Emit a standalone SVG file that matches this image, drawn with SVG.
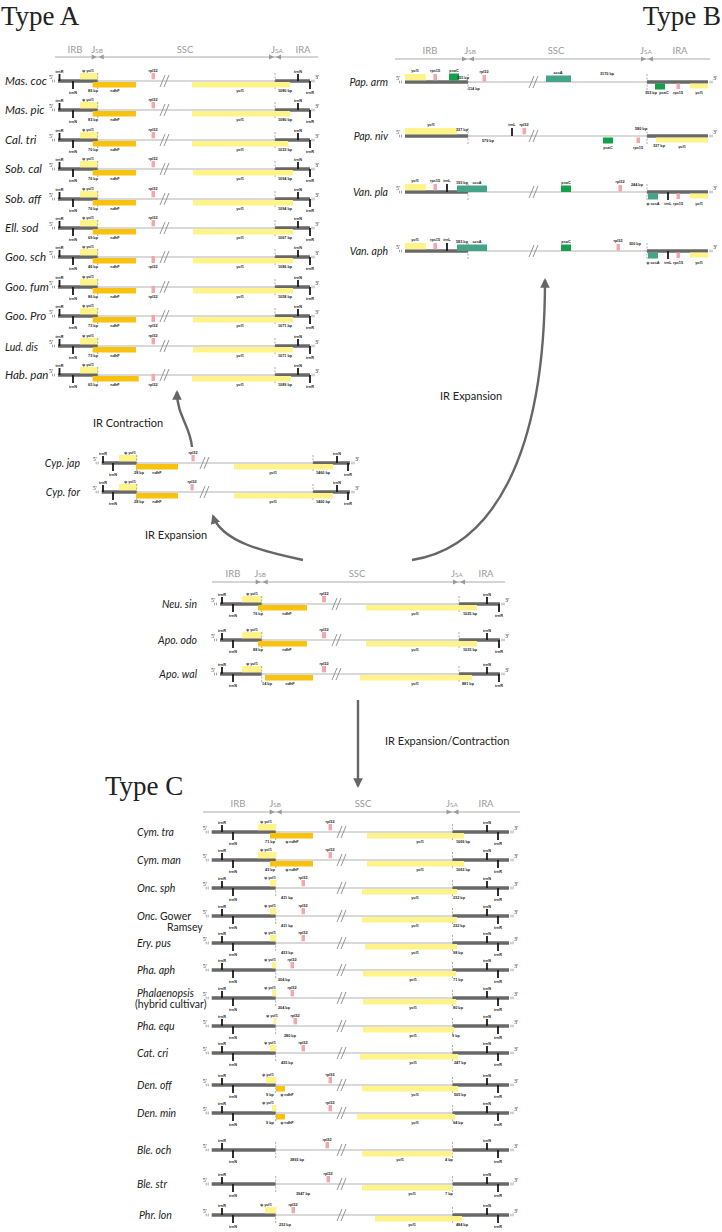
<svg xmlns="http://www.w3.org/2000/svg" xmlns:xlink="http://www.w3.org/1999/xlink" width="722" height="1232" viewBox="0 0 722 1232">
<style>
.dk{stroke:#686868;stroke-width:3.5;fill:none}
.lt{stroke:#b4b4b4;stroke-width:1.1;fill:none}
.yl{fill:#fff38a}
.or{fill:#f9c20f}
.pk{fill:#f3a7ab}
.gr{fill:#14a04a}
.te{fill:#44a488}
.tk{stroke:#1a1a1a;stroke-width:1.8;fill:none}
.jn{stroke:#8a8a8a;stroke-width:0.7;stroke-dasharray:2,1.5}
.bk{stroke:#8a8a8a;stroke-width:0.9;fill:none}
.em{stroke:#666;stroke-width:0.6;fill:none}
.sm{font-family:"Liberation Sans",Arial,sans-serif;font-size:3.8px;font-weight:bold;fill:#222;text-anchor:middle}
.pr{font-family:"Liberation Serif",serif;font-size:6px;fill:#333}
.hd{font-family:Lato,"Open Sans",sans-serif;font-size:9.5px;fill:#9a9a9a;text-anchor:middle}
.hl{stroke:#a0a0a0;stroke-width:0.9}
.hm{fill:#9a9a9a}
.nm{font-family:Lato,"Open Sans",sans-serif;font-size:10.5px;font-style:italic;fill:#222}
.na{font-size:11.5px}
.nr{font-family:Lato,"Open Sans",sans-serif;font-size:10.5px;fill:#222}
.ti{font-family:"Liberation Serif","Times New Roman",serif;font-size:27px;fill:#222}
.lb{font-family:Lato,"Open Sans",sans-serif;font-size:11px;fill:#222}
.cn{stroke:#666;stroke-width:2.4;fill:none}
</style>
<defs>
<marker id="ah" viewBox="0 0 10 10" refX="8" refY="5" markerWidth="4" markerHeight="4" orient="auto"><path d="M0,0L10,5L0,10z" fill="#666"/></marker>
<g id="e5"><text class="pr" x="-9" y="-2.5">5'</text><path class="em" d="M-5.5,-1.3V1.3M-3.5,-1.3V1.3"/></g>
<g id="e3"><path class="em" d="M2,-1.3V1.3M4,-1.3V1.3"/><text class="pr" x="5" y="-2.5">3'</text></g>
<line id="jn" class="jn" x1="0" y1="-8" x2="0" y2="9"/>
<path id="bk" class="bk" d="M0,6L5,-6M4,6L9,-6"/>
<path id="hm" class="hm" d="M-6,-2.5L-1,0L-6,2.5ZM6,-2.5L1,0L6,2.5ZM-6.5,-2.5V2.5"/>
<g id="skA">
 <use href="#e5" x="58"/>
 <line class="lt" x1="97.7" y1="0" x2="275" y2="0"/>
 <use href="#bk" x="160"/>
 <line class="dk" x1="58" y1="0" x2="97.7" y2="0"/>
 <line class="dk" x1="275" y1="0" x2="310" y2="0"/>
 <rect class="yl" x="80" y="-8" width="17.7" height="6.3"/>
 <path class="tk" d="M59.5,-7V0M73,0V8M298,-7V0M310,0V8"/>
 <use href="#jn" x="97.7"/><use href="#jn" x="275"/>
 <use href="#e3" x="310"/>
 <text class="sm" x="59.5" y="-8.5">trnR</text>
 <text class="sm" x="73" y="12.5">trnN</text>
 <text class="sm" x="88" y="-9.5">ψ ycf1</text>
 <text class="sm" x="298" y="-8.5">trnN</text>
 <text class="sm" x="310" y="12.5">trnR</text>
</g>
<g id="skY">
 <use href="#e5" x="101.7"/>
 <line class="lt" x1="136.7" y1="0" x2="313" y2="0"/>
 <use href="#bk" x="200"/>
 <line class="dk" x1="101.7" y1="0" x2="136.7" y2="0"/>
 <line class="dk" x1="313" y1="0" x2="350" y2="0"/>
 <rect class="yl" x="119" y="-8" width="18" height="6.3"/>
 <path class="tk" d="M103,-7V0M113,0V8M337,-7V0M348,0V8"/>
 <use href="#jn" x="136.7"/><use href="#jn" x="313"/>
 <use href="#e3" x="350"/>
 <text class="sm" x="103" y="-8.5">trnR</text>
 <text class="sm" x="113" y="12.5">trnN</text>
 <text class="sm" x="130" y="-9.5">ψ ycf1</text>
 <text class="sm" x="337" y="-8.5">trnN</text>
 <text class="sm" x="348" y="12.5">trnR</text>
</g>
<g id="skN">
 <use href="#e5" x="220"/>
 <line class="lt" x1="261.7" y1="0" x2="459" y2="0"/>
 <use href="#bk" x="332"/>
 <line class="dk" x1="220" y1="0" x2="261.7" y2="0"/>
 <line class="dk" x1="459" y1="0" x2="500" y2="0"/>
 <rect class="yl" x="242" y="-8" width="19.7" height="6.3"/>
 <path class="tk" d="M222,-7V0M233,0V8M487,-7V0M499,0V8"/>
 <use href="#jn" x="261.7"/><use href="#jn" x="459"/>
 <use href="#e3" x="500"/>
 <text class="sm" x="222" y="-8.5">trnR</text>
 <text class="sm" x="233" y="12.5">trnN</text>
 <text class="sm" x="252" y="-9.5">ψ ycf1</text>
 <text class="sm" x="487" y="-8.5">trnN</text>
 <text class="sm" x="499" y="12.5">trnR</text>
</g>
<g id="skC">
 <use href="#e5" x="211.7"/>
 <line class="lt" x1="275.7" y1="0" x2="452.5" y2="0"/>
 <use href="#bk" x="337"/>
 <line class="dk" x1="211.7" y1="0" x2="275.7" y2="0"/>
 <line class="dk" x1="452.5" y1="0" x2="509" y2="0"/>
 <path class="tk" d="M222,-7V0M233,0V8M487,-7V0M498,0V8"/>
 <use href="#jn" x="275.7"/><use href="#jn" x="452.5"/>
 <use href="#e3" x="509"/>
 <text class="sm" x="222" y="-8.5">trnR</text>
 <text class="sm" x="233" y="12.5">trnN</text>
 <text class="sm" x="487" y="-8.5">trnN</text>
 <text class="sm" x="498" y="12.5">trnR</text>
</g>
</defs>
<rect width="722" height="1232" fill="#fff"/>

<text class="ti" x="1" y="25">Type A</text>
<text class="ti" x="721" y="25" text-anchor="end">Type B</text>
<text class="ti" x="105" y="795">Type C</text>

<g id="headers">
 <g id="hdrA">
  <line class="hl" x1="55" y1="57" x2="318" y2="57"/>
  <use href="#hm" x="97.7" y="57"/><use href="#hm" x="275" y="57"/>
  <text class="hd" x="75" y="53">IRB</text>
  <text class="hd" x="97" y="53">J<tspan font-size="6.5">SB</tspan></text>
  <text class="hd" x="185" y="53">SSC</text>
  <text class="hd" x="277" y="53">J<tspan font-size="6.5">SA</tspan></text>
  <text class="hd" x="303" y="53">IRA</text>
 </g>
 <g id="hdrB">
  <line class="hl" x1="395" y1="59" x2="710" y2="59"/>
  <use href="#hm" x="468" y="59"/><use href="#hm" x="647" y="59"/>
  <text class="hd" x="430" y="54">IRB</text>
  <text class="hd" x="470" y="54">J<tspan font-size="6.5">SB</tspan></text>
  <text class="hd" x="556" y="54">SSC</text>
  <text class="hd" x="646" y="54">J<tspan font-size="6.5">SA</tspan></text>
  <text class="hd" x="680" y="54">IRA</text>
 </g>
 <g id="hdrN">
  <line class="hl" x1="212" y1="582" x2="505" y2="582"/>
  <use href="#hm" x="261.7" y="582"/><use href="#hm" x="459" y="582"/>
  <text class="hd" x="233" y="577">IRB</text>
  <text class="hd" x="260" y="577">J<tspan font-size="6.5">SB</tspan></text>
  <text class="hd" x="357" y="577">SSC</text>
  <text class="hd" x="457" y="577">J<tspan font-size="6.5">SA</tspan></text>
  <text class="hd" x="486" y="577">IRA</text>
 </g>
 <g id="hdrC">
  <line class="hl" x1="203" y1="812" x2="520" y2="812"/>
  <use href="#hm" x="275.7" y="812"/><use href="#hm" x="452.5" y="812"/>
  <text class="hd" x="238" y="807">IRB</text>
  <text class="hd" x="275" y="807">J<tspan font-size="6.5">SB</tspan></text>
  <text class="hd" x="363" y="807">SSC</text>
  <text class="hd" x="452" y="807">J<tspan font-size="6.5">SA</tspan></text>
  <text class="hd" x="486" y="807">IRA</text>
 </g>
</g>

<g id="typeA">
 <g id="mas-coc" transform="translate(0,81)">
  <text class="nm na" x="5" y="4">Mas. coc</text><use href="#skA"/>
  <rect class="or" x="92.7" y="1" width="43.3" height="5.5"/><rect class="yl" x="192" y="1" width="98" height="5.5"/>
  <rect class="pk" x="151.5" y="-8" width="3.5" height="6.3"/>
  <text class="sm" x="153" y="-9.5">rpl32</text><text class="sm" x="93" y="11">86 bp</text><text class="sm" x="115" y="11">ndhF</text><text class="sm" x="240" y="11">ycf1</text><text class="sm" x="285" y="11">1080 bp</text>
 </g>
 <g id="mas-pic" transform="translate(0,110)">
  <text class="nm na" x="5" y="4">Mas. pic</text><use href="#skA"/>
  <rect class="or" x="92.7" y="1" width="43.3" height="5.5"/><rect class="yl" x="192" y="1" width="98" height="5.5"/>
  <rect class="pk" x="151.5" y="-8" width="3.5" height="6.3"/>
  <text class="sm" x="153" y="-9.5">rpl32</text><text class="sm" x="93" y="11">83 bp</text><text class="sm" x="115" y="11">ndhF</text><text class="sm" x="240" y="11">ycf1</text><text class="sm" x="285" y="11">1080 bp</text>
 </g>
 <g id="cal-tri" transform="translate(0,140)">
  <text class="nm na" x="5" y="4">Cal. tri</text><use href="#skA"/>
  <rect class="or" x="92.7" y="1" width="43.3" height="5.5"/><rect class="yl" x="192" y="1" width="96" height="5.5"/>
  <rect class="pk" x="151.5" y="-8" width="3.5" height="6.3"/>
  <text class="sm" x="153" y="-9.5">rpl32</text><text class="sm" x="93" y="11">70 bp</text><text class="sm" x="115" y="11">ndhF</text><text class="sm" x="240" y="11">ycf1</text><text class="sm" x="285" y="11">1033 bp</text>
 </g>
 <g id="sob-cal" transform="translate(0,169)">
  <text class="nm na" x="5" y="4">Sob. cal</text><use href="#skA"/>
  <rect class="or" x="92.7" y="1" width="43.3" height="5.5"/><rect class="yl" x="193" y="1" width="100" height="5.5"/>
  <rect class="pk" x="151.5" y="-8" width="3.5" height="6.3"/>
  <text class="sm" x="153" y="-9.5">rpl32</text><text class="sm" x="93" y="11">76 bp</text><text class="sm" x="115" y="11">ndhF</text><text class="sm" x="240" y="11">ycf1</text><text class="sm" x="285" y="11">1094 bp</text>
 </g>
 <g id="sob-aff" transform="translate(0,199)">
  <text class="nm na" x="5" y="4">Sob. aff</text><use href="#skA"/>
  <rect class="or" x="92.7" y="1" width="43.3" height="5.5"/><rect class="yl" x="193" y="1" width="100" height="5.5"/>
  <rect class="pk" x="151.5" y="-8" width="3.5" height="6.3"/>
  <text class="sm" x="153" y="-9.5">rpl32</text><text class="sm" x="93" y="11">76 bp</text><text class="sm" x="115" y="11">ndhF</text><text class="sm" x="240" y="11">ycf1</text><text class="sm" x="285" y="11">1094 bp</text>
 </g>
 <g id="ell-sod" transform="translate(0,228)">
  <text class="nm na" x="5" y="4">Ell. sod</text><use href="#skA"/>
  <rect class="or" x="92.7" y="1" width="43.3" height="5.5"/><rect class="yl" x="193" y="1" width="100" height="5.5"/>
  <rect class="pk" x="151.5" y="-8" width="3.5" height="6.3"/>
  <text class="sm" x="153" y="-9.5">rpl32</text><text class="sm" x="93" y="11">69 bp</text><text class="sm" x="115" y="11">ndhF</text><text class="sm" x="240" y="11">ycf1</text><text class="sm" x="285" y="11">1067 bp</text>
 </g>
 <g id="goo-sch" transform="translate(0,257)">
  <text class="nm na" x="5" y="4">Goo. sch</text><use href="#skA"/>
  <rect class="or" x="92.7" y="1" width="43.3" height="5.5"/><rect class="yl" x="193" y="1" width="100" height="5.5"/>
  <rect class="pk" x="151.5" y="-1" width="3.5" height="7"/>
  <text class="sm" x="153" y="11">rpl32</text><text class="sm" x="93" y="11">46 bp</text><text class="sm" x="115" y="11">ndhF</text><text class="sm" x="240" y="11">ycf1</text><text class="sm" x="285" y="11">1086 bp</text>
 </g>
 <g id="goo-fum" transform="translate(0,287)">
  <text class="nm na" x="5" y="4">Goo. fum</text><use href="#skA"/>
  <rect class="or" x="92.7" y="1" width="43.3" height="5.5"/><rect class="yl" x="193" y="1" width="100" height="5.5"/>
  <rect class="pk" x="151.5" y="-1" width="3.5" height="7"/>
  <text class="sm" x="153" y="11">rpl32</text><text class="sm" x="93" y="11">86 bp</text><text class="sm" x="115" y="11">ndhF</text><text class="sm" x="240" y="11">ycf1</text><text class="sm" x="285" y="11">1058 bp</text>
 </g>
 <g id="goo-pro" transform="translate(0,316)">
  <text class="nm na" x="5" y="4">Goo. Pro</text><use href="#skA"/>
  <rect class="or" x="92.7" y="1" width="43.3" height="5.5"/><rect class="yl" x="193" y="1" width="100" height="5.5"/>
  <rect class="pk" x="151.5" y="-1" width="3.5" height="7"/>
  <text class="sm" x="153" y="11">rpl32</text><text class="sm" x="93" y="11">73 bp</text><text class="sm" x="115" y="11">ndhF</text><text class="sm" x="240" y="11">ycf1</text><text class="sm" x="285" y="11">1071 bp</text>
 </g>
 <g id="lud-dis" transform="translate(0,346)">
  <text class="nm" x="5" y="5" font-size="13.5">Lud. dis</text><use href="#skA"/>
  <rect class="or" x="92.7" y="1" width="43.3" height="5.5"/><rect class="yl" x="193" y="1" width="100" height="5.5"/>
  <rect class="pk" x="151.5" y="-8" width="3.5" height="6.3"/>
  <text class="sm" x="153" y="-9.5">rpl32</text><text class="sm" x="93" y="11">73 bp</text><text class="sm" x="115" y="11">ndhF</text><text class="sm" x="240" y="11">ycf1</text><text class="sm" x="285" y="11">1071 bp</text>
 </g>
 <g id="hab-pan" transform="translate(0,375)">
  <text class="nm na" x="5" y="4">Hab. pan</text><use href="#skA"/>
  <rect class="or" x="92.7" y="1" width="46" height="5.5"/><rect class="yl" x="192" y="1" width="99" height="5.5"/>
  <rect class="pk" x="151.5" y="-1" width="3.5" height="7"/>
  <text class="sm" x="153" y="11">rpl32</text><text class="sm" x="93" y="11">65 bp</text><text class="sm" x="115" y="11">ndhF</text><text class="sm" x="240" y="11">ycf1</text><text class="sm" x="285" y="11">1089 bp</text>
 </g>
</g>

<g id="typeB">
 <g id="pap-arm" transform="translate(0,82)">
  <text class="nm" x="388" y="4" text-anchor="end">Pap. arm</text>
  <use href="#e5" x="405"/>
  <line class="lt" x1="468" y1="0" x2="647" y2="0"/><use href="#bk" x="529"/>
  <line class="dk" x1="405" y1="0" x2="468" y2="0"/><line class="dk" x1="647" y1="0" x2="708" y2="0"/>
  <rect class="yl" x="405" y="-8" width="21" height="6.3"/>
  <rect class="pk" x="433.5" y="-8" width="3.5" height="6.3"/>
  <rect class="gr" x="449" y="-8.5" width="10" height="7"/>
  <rect class="pk" x="482.5" y="-7" width="3.5" height="6.5"/>
  <rect class="te" x="546" y="-6.5" width="25" height="6.5"/>
  <rect class="gr" x="655" y="1.5" width="10" height="6"/>
  <rect class="pk" x="676.5" y="1.5" width="3.5" height="5.5"/>
  <rect class="yl" x="690" y="1.5" width="18" height="5"/>
  <use href="#jn" x="468"/><use href="#jn" x="647"/><use href="#e3" x="708"/>
  <text class="sm" x="415" y="-10">ycf1</text><text class="sm" x="435" y="-10">rps15</text><text class="sm" x="454" y="-10.5">psaC</text>
  <text class="sm" x="463" y="-3">355 bp</text><text class="sm" x="474" y="8">114 bp</text><text class="sm" x="484" y="-9">rpl32</text>
  <text class="sm" x="558" y="-8.5">ccsA</text><text class="sm" x="607" y="-7">3170 bp</text>
  <text class="sm" x="651" y="12">353 bp</text><text class="sm" x="664" y="12">psaC</text><text class="sm" x="678" y="12">rps15</text><text class="sm" x="699" y="12">ycf1</text>
 </g>
 <g id="pap-niv" transform="translate(0,136)">
  <text class="nm" x="388" y="4" text-anchor="end">Pap. niv</text>
  <use href="#e5" x="405"/>
  <line class="lt" x1="468" y1="0" x2="647" y2="0"/><use href="#bk" x="529"/>
  <line class="dk" x1="405" y1="0" x2="468" y2="0"/><line class="dk" x1="647" y1="0" x2="708" y2="0"/>
  <rect class="yl" x="405" y="-8" width="52" height="6.3"/>
  <path class="tk" d="M512,-8V0"/>
  <rect class="pk" x="522.5" y="-8" width="3.5" height="6.3"/>
  <rect class="gr" x="603" y="1.5" width="10" height="6"/>
  <rect class="pk" x="636.5" y="1.5" width="3.5" height="5.5"/>
  <rect class="yl" x="656" y="1.5" width="52" height="5"/>
  <use href="#jn" x="468"/><use href="#jn" x="647"/><use href="#e3" x="708"/>
  <text class="sm" x="431" y="-10">ycf1</text><text class="sm" x="462" y="-5">337 bp</text><text class="sm" x="488" y="6">579 bp</text>
  <text class="sm" x="512" y="-10">trnL</text><text class="sm" x="524" y="-10">rpl32</text>
  <text class="sm" x="608" y="13">psaC</text><text class="sm" x="638" y="13">rps15</text><text class="sm" x="641" y="-6">580 bp</text>
  <text class="sm" x="659" y="11">337 bp</text><text class="sm" x="682" y="12">ycf1</text>
 </g>
 <g id="van-pla" transform="translate(0,192)">
  <text class="nm" x="388" y="4" text-anchor="end">Van. pla</text>
  <use href="#e5" x="405"/>
  <line class="lt" x1="468" y1="0" x2="647" y2="0"/><use href="#bk" x="529"/>
  <line class="dk" x1="405" y1="0" x2="468" y2="0"/><line class="dk" x1="647" y1="0" x2="708" y2="0"/>
  <rect class="yl" x="405" y="-8" width="21" height="6.3"/>
  <rect class="pk" x="433.5" y="-8" width="3.5" height="6.3"/>
  <path class="tk" d="M447,-8V0M668,0V8"/>
  <rect class="te" x="457" y="-6.5" width="30" height="6.5"/>
  <rect class="gr" x="561" y="-6.5" width="10" height="6.5"/>
  <rect class="pk" x="618.5" y="-7" width="3.5" height="6.5"/>
  <rect class="te" x="648" y="1.5" width="10" height="6"/>
  <rect class="pk" x="676.5" y="1.5" width="3.5" height="5.5"/>
  <rect class="yl" x="690" y="1.5" width="18" height="5"/>
  <use href="#jn" x="468"/><use href="#jn" x="647"/><use href="#e3" x="708"/>
  <text class="sm" x="415" y="-10">ycf1</text><text class="sm" x="435" y="-10">rps15</text><text class="sm" x="447" y="-10">trnL</text>
  <text class="sm" x="462" y="-8">193 bp</text><text class="sm" x="477" y="-8">ccsA</text><text class="sm" x="566" y="-8.5">psaC</text>
  <text class="sm" x="620" y="-9">rpl32</text><text class="sm" x="637" y="-6">244 bp</text>
  <text class="sm" x="653" y="13">ψ ccsA</text><text class="sm" x="668" y="13">trnL</text><text class="sm" x="678" y="13">rps15</text><text class="sm" x="699" y="13">ycf1</text>
 </g>
 <g id="van-aph" transform="translate(0,251)">
  <text class="nm" x="388" y="4" text-anchor="end">Van. aph</text>
  <use href="#e5" x="405"/>
  <line class="lt" x1="468" y1="0" x2="647" y2="0"/><use href="#bk" x="529"/>
  <line class="dk" x1="405" y1="0" x2="468" y2="0"/><line class="dk" x1="647" y1="0" x2="708" y2="0"/>
  <rect class="yl" x="405" y="-8" width="21" height="6.3"/>
  <rect class="pk" x="433.5" y="-8" width="3.5" height="6.3"/>
  <path class="tk" d="M447,-8V0M668,0V8"/>
  <rect class="te" x="457" y="-6.5" width="30" height="6.5"/>
  <rect class="gr" x="561" y="-6.5" width="10" height="6.5"/>
  <rect class="pk" x="616.5" y="-7" width="3.5" height="6.5"/>
  <rect class="te" x="648" y="1.5" width="10" height="6"/>
  <rect class="pk" x="676.5" y="1.5" width="3.5" height="5.5"/>
  <rect class="yl" x="690" y="1.5" width="18" height="5"/>
  <use href="#jn" x="468"/><use href="#jn" x="647"/><use href="#e3" x="708"/>
  <text class="sm" x="415" y="-10">ycf1</text><text class="sm" x="435" y="-10">rps15</text><text class="sm" x="447" y="-10">trnL</text>
  <text class="sm" x="462" y="-8">583 bp</text><text class="sm" x="477" y="-8">ccsA</text><text class="sm" x="566" y="-8.5">psaC</text>
  <text class="sm" x="618" y="-9">rpl32</text><text class="sm" x="635" y="-6">300 bp</text>
  <text class="sm" x="653" y="13">ψ ccsA</text><text class="sm" x="668" y="13">trnL</text><text class="sm" x="678" y="13">rps15</text><text class="sm" x="699" y="13">ycf1</text>
 </g>
</g>

<g id="cyp">
 <g id="cyp-jap" transform="translate(0,463)">
  <text class="nm" x="80" y="4" text-anchor="end" font-size="12">Cyp. jap</text><use href="#skY"/>
  <rect class="or" x="136" y="1" width="42" height="5.5"/><rect class="yl" x="234" y="1" width="99" height="5.5"/>
  <rect class="pk" x="191.5" y="-8" width="3.2" height="6.3"/>
  <text class="sm" x="193" y="-9.5">rpl32</text><text class="sm" x="139" y="11">28 bp</text><text class="sm" x="157" y="11">ndhF</text><text class="sm" x="273" y="11">ycf1</text><text class="sm" x="323" y="11">1460 bp</text>
 </g>
 <g id="cyp-for" transform="translate(0,492)">
  <text class="nm" x="80" y="4" text-anchor="end" font-size="12">Cyp. for</text><use href="#skY"/>
  <rect class="or" x="136" y="1" width="42" height="5.5"/><rect class="yl" x="234" y="1" width="99" height="5.5"/>
  <rect class="pk" x="190.5" y="-8" width="3.2" height="6.3"/>
  <text class="sm" x="192" y="-9.5">rpl32</text><text class="sm" x="139" y="11">28 bp</text><text class="sm" x="157" y="11">ndhF</text><text class="sm" x="273" y="11">ycf1</text><text class="sm" x="323" y="11">1460 bp</text>
 </g>
</g>

<g id="neu">
 <g id="neu-sin" transform="translate(0,604)">
  <text class="nm" x="197" y="4" text-anchor="end" font-size="12">Neu. sin</text><use href="#skN"/>
  <rect class="or" x="258" y="1" width="49" height="5.5"/><rect class="yl" x="366" y="1" width="111" height="5.5"/>
  <rect class="pk" x="322" y="-8" width="4" height="6.3"/>
  <text class="sm" x="324" y="-9.5">rpl32</text><text class="sm" x="258" y="11">76 bp</text><text class="sm" x="287" y="11">ndhF</text><text class="sm" x="415" y="11">ycf1</text><text class="sm" x="470" y="11">1025 bp</text>
 </g>
 <g id="apo-odo" transform="translate(0,640)">
  <text class="nm" x="197" y="4" text-anchor="end" font-size="12">Apo. odo</text><use href="#skN"/>
  <rect class="or" x="258" y="1" width="49" height="5.5"/><rect class="yl" x="366" y="1" width="111" height="5.5"/>
  <rect class="pk" x="322" y="-8" width="4" height="6.3"/>
  <text class="sm" x="324" y="-9.5">rpl32</text><text class="sm" x="258" y="11">88 bp</text><text class="sm" x="287" y="11">ndhF</text><text class="sm" x="415" y="11">ycf1</text><text class="sm" x="470" y="11">1033 bp</text>
 </g>
 <g id="apo-wal" transform="translate(0,674)">
  <text class="nm" x="197" y="4" text-anchor="end" font-size="12">Apo. wal</text><use href="#skN"/>
  <rect class="or" x="265" y="1" width="48" height="5.5"/><rect class="yl" x="360" y="1" width="112" height="5.5"/>
  <rect class="pk" x="322" y="-8" width="4" height="6.3"/>
  <text class="sm" x="324" y="-9.5">rpl32</text><text class="sm" x="267" y="11">14 bp</text><text class="sm" x="290" y="11">ndhF</text><text class="sm" x="415" y="11">ycf1</text><text class="sm" x="468" y="11">881 bp</text>
 </g>
</g>

<g id="typeC">
 <g id="cym-tra" transform="translate(0,832)">
  <text class="nm" x="137" y="4">Cym. tra</text><use href="#skC"/>
  <rect class="yl" x="258" y="-8" width="18" height="6.3"/><rect class="or" x="270" y="1" width="43" height="5.5"/>
  <rect class="pk" x="328.5" y="-8" width="3.5" height="6.3"/><rect class="yl" x="367" y="1" width="97" height="5.5"/>
  <text class="sm" x="266" y="-9.5">ψ ycf1</text><text class="sm" x="270" y="11">71 bp</text><text class="sm" x="292" y="11">ψ ndhF</text><text class="sm" x="330" y="-9.5">rpl32</text><text class="sm" x="420" y="11">ycf1</text><text class="sm" x="463" y="11">1069 bp</text>
 </g>
 <g id="cym-man" transform="translate(0,860)">
  <text class="nm" x="137" y="4">Cym. man</text><use href="#skC"/>
  <rect class="yl" x="258" y="-8" width="18" height="6.3"/><rect class="or" x="270" y="1" width="43" height="5.5"/>
  <rect class="pk" x="328.5" y="-8" width="3.5" height="6.3"/><rect class="yl" x="367" y="1" width="97" height="5.5"/>
  <text class="sm" x="266" y="-9.5">ψ ycf1</text><text class="sm" x="270" y="11">43 bp</text><text class="sm" x="292" y="11">ψ ndhF</text><text class="sm" x="330" y="-9.5">rpl32</text><text class="sm" x="420" y="11">ycf1</text><text class="sm" x="463" y="11">1063 bp</text>
 </g>
 <g id="onc-sph" transform="translate(0,888)">
  <text class="nm" x="137" y="4">Onc. sph</text><use href="#skC"/>
  <rect class="yl" x="270" y="-8" width="6" height="6.3"/>
  <rect class="pk" x="301.5" y="-8" width="3.5" height="6.3"/><rect class="yl" x="362" y="1" width="95" height="5.5"/>
  <text class="sm" x="270" y="-9.5">ψ ycf1</text><text class="sm" x="287" y="11">411 bp</text><text class="sm" x="303" y="-9.5">rpl32</text><text class="sm" x="415" y="11">ycf1</text><text class="sm" x="459" y="11">232 bp</text>
 </g>
 <g id="onc-gower" transform="translate(0,916)">
  <text class="nm" x="137" y="4">Onc. <tspan font-style="normal">Gower</tspan></text><text class="nr" x="167" y="15">Ramsey</text><use href="#skC"/>
  <rect class="yl" x="270" y="-8" width="6" height="6.3"/>
  <rect class="pk" x="301.5" y="-8" width="3.5" height="6.3"/><rect class="yl" x="362" y="1" width="95" height="5.5"/>
  <text class="sm" x="270" y="-9.5">ψ ycf1</text><text class="sm" x="287" y="11">411 bp</text><text class="sm" x="303" y="-9.5">rpl32</text><text class="sm" x="415" y="11">ycf1</text><text class="sm" x="459" y="11">232 bp</text>
 </g>
 <g id="ery-pus" transform="translate(0,943)">
  <text class="nm" x="137" y="4">Ery. pus</text><use href="#skC"/>
  <rect class="yl" x="270" y="-8" width="6" height="6.3"/>
  <rect class="pk" x="301.5" y="-8" width="3.5" height="6.3"/><rect class="yl" x="365" y="1" width="92" height="5.5"/>
  <text class="sm" x="270" y="-9.5">ψ ycf1</text><text class="sm" x="287" y="11">433 bp</text><text class="sm" x="303" y="-9.5">rpl32</text><text class="sm" x="415" y="11">ycf1</text><text class="sm" x="458" y="11">98 bp</text>
 </g>
 <g id="pha-aph" transform="translate(0,970)">
  <text class="nm" x="137" y="4">Pha. aph</text><use href="#skC"/>
  <rect class="yl" x="272" y="-8" width="4" height="6.3"/>
  <rect class="pk" x="290.5" y="-8" width="3.5" height="6.3"/><rect class="yl" x="363" y="1" width="93" height="5.5"/>
  <text class="sm" x="270" y="-9.5">ψ ycf1</text><text class="sm" x="284" y="11">204 bp</text><text class="sm" x="292" y="-9.5">rpl32</text><text class="sm" x="413" y="11">ycf1</text><text class="sm" x="458" y="11">71 bp</text>
 </g>
 <g id="phalaenopsis" transform="translate(0,998)">
  <text class="nm" x="137" y="-1">Phalaenopsis</text><text class="nr" x="135" y="10">(hybrid cultivar)</text><use href="#skC"/>
  <rect class="yl" x="272" y="-8" width="4" height="6.3"/>
  <rect class="pk" x="290.5" y="-8" width="3.5" height="6.3"/><rect class="yl" x="363" y="1" width="93" height="5.5"/>
  <text class="sm" x="270" y="-9.5">ψ ycf1</text><text class="sm" x="284" y="11">204 bp</text><text class="sm" x="292" y="-9.5">rpl32</text><text class="sm" x="413" y="11">ycf1</text><text class="sm" x="458" y="11">80 bp</text>
 </g>
 <g id="pha-equ" transform="translate(0,1026)">
  <text class="nm" x="137" y="4">Pha. equ</text><use href="#skC"/>
  <rect class="yl" x="273.5" y="-8" width="2.5" height="6.3"/>
  <rect class="pk" x="293.5" y="-8" width="3.5" height="6.3"/><rect class="yl" x="363" y="1" width="91" height="5.5"/>
  <text class="sm" x="272" y="-9.5">ψ ycf1</text><text class="sm" x="290" y="11">280 bp</text><text class="sm" x="295" y="-9.5">rpl32</text><text class="sm" x="413" y="11">ycf1</text><text class="sm" x="456" y="11">9 bp</text>
 </g>
 <g id="cat-cri" transform="translate(0,1053)">
  <text class="nm" x="137" y="4">Cat. cri</text><use href="#skC"/>
  <rect class="yl" x="270" y="-8" width="6" height="6.3"/>
  <rect class="pk" x="301.5" y="-8" width="3.5" height="6.3"/><rect class="yl" x="360" y="1" width="98" height="5.5"/>
  <text class="sm" x="270" y="-9.5">ψ ycf1</text><text class="sm" x="287" y="11">435 bp</text><text class="sm" x="303" y="-9.5">rpl32</text><text class="sm" x="413" y="11">ycf1</text><text class="sm" x="460" y="11">247 bp</text>
 </g>
 <g id="den-off" transform="translate(0,1085)">
  <text class="nm" x="137" y="4">Den. off</text><use href="#skC"/>
  <rect class="yl" x="266" y="-8" width="10" height="6.3"/><rect class="or" x="276" y="1" width="9" height="5.5"/>
  <rect class="pk" x="328.5" y="-8" width="3.5" height="6.3"/><rect class="yl" x="362" y="1" width="96" height="5.5"/>
  <text class="sm" x="268" y="-9.5">ψ ycf1</text><text class="sm" x="270" y="11">9 bp</text><text class="sm" x="287" y="11">ψ ndhF</text><text class="sm" x="330" y="-9.5">rpl32</text><text class="sm" x="415" y="11">ycf1</text><text class="sm" x="460" y="11">505 bp</text>
 </g>
 <g id="den-min" transform="translate(0,1113)">
  <text class="nm" x="137" y="4">Den. min</text><use href="#skC"/>
  <rect class="yl" x="272" y="-8" width="4" height="6.3"/><rect class="or" x="276" y="1" width="9" height="5.5"/>
  <rect class="pk" x="328.5" y="-8" width="3.5" height="6.3"/><rect class="yl" x="357" y="1" width="98" height="5.5"/>
  <text class="sm" x="268" y="-9.5">ψ ycf1</text><text class="sm" x="270" y="11">9 bp</text><text class="sm" x="287" y="11">ψ ndhF</text><text class="sm" x="330" y="-9.5">rpl32</text><text class="sm" x="415" y="11">ycf1</text><text class="sm" x="458" y="11">94 bp</text>
 </g>
 <g id="ble-och" transform="translate(0,1150)">
  <text class="nm" x="137" y="4" font-size="12">Ble. och</text><use href="#skC"/>
  <rect class="pk" x="325.5" y="-8" width="3.5" height="6.3"/><rect class="yl" x="362" y="1" width="90.5" height="5.5"/>
  <text class="sm" x="297" y="11">3893 bp</text><text class="sm" x="327" y="-9.5">rpl32</text><text class="sm" x="400" y="11">ycf1</text><text class="sm" x="449" y="11">4 bp</text>
 </g>
 <g id="ble-str" transform="translate(0,1184)">
  <text class="nm" x="137" y="4" font-size="12">Ble. str</text><use href="#skC"/>
  <rect class="pk" x="326.5" y="-8" width="3.5" height="6.3"/><rect class="yl" x="362" y="1" width="90.5" height="5.5"/>
  <text class="sm" x="303" y="11">3947 bp</text><text class="sm" x="328" y="-9.5">rpl32</text><text class="sm" x="412" y="11">ycf1</text><text class="sm" x="449" y="11">7 bp</text>
 </g>
 <g id="phr-lon" transform="translate(0,1215)">
  <text class="nm" x="139" y="4">Phr. lon</text><use href="#skC"/>
  <rect class="yl" x="265" y="-8" width="11" height="6.3"/>
  <rect class="pk" x="291.5" y="-8" width="3.5" height="6.3"/><rect class="yl" x="375" y="1" width="87" height="5.5"/>
  <text class="sm" x="266" y="-9.5">ψ ycf1</text><text class="sm" x="285" y="11">232 bp</text><text class="sm" x="293" y="-9.5">rpl32</text><text class="sm" x="412" y="11">ycf1</text><text class="sm" x="462" y="11">484 bp</text>
 </g>
</g>

<g id="connectors">
 <path class="cn" d="M192,447 C190,425 177,416 177,392" marker-end="url(#ah)"/>
 <path class="cn" d="M303,560 C265,552 222,542 213,516" marker-end="url(#ah)"/>
 <path class="cn" d="M412,560 C490,548 545,460 545,280" marker-end="url(#ah)"/>
 <path class="cn" d="M358,700 L358,786" marker-end="url(#ah)"/>
 <text class="lb" x="93" y="427">IR Contraction</text>
 <text class="lb" x="145" y="539">IR Expansion</text>
 <text class="lb" x="440" y="400">IR Expansion</text>
 <text class="lb" x="385" y="745">IR Expansion/Contraction</text>
</g>
</svg>
